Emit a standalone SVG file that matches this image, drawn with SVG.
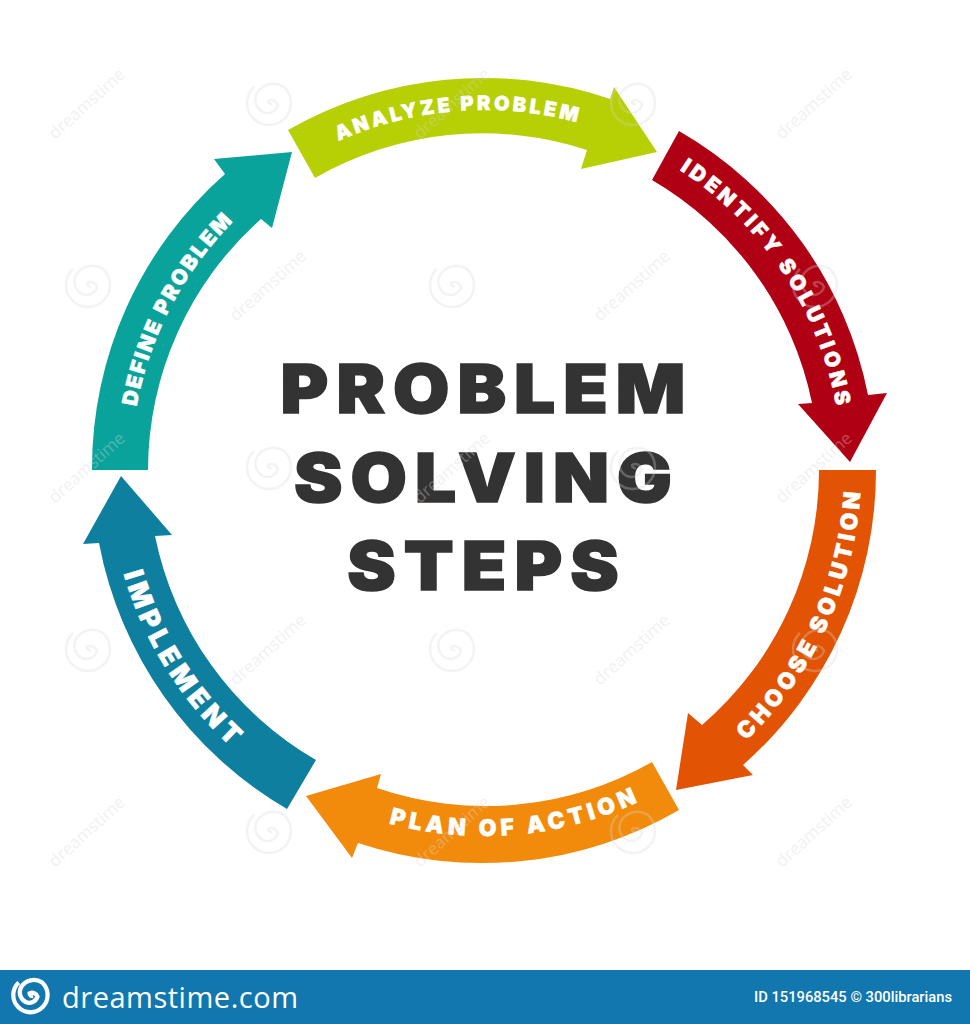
<svg xmlns="http://www.w3.org/2000/svg" xmlns:xlink="http://www.w3.org/1999/xlink" width="970" height="1024" viewBox="0 0 970 1024">
<style>
.lbl{font-family:Inter,"Liberation Sans",sans-serif;font-weight:900;fill:#fff;stroke:#fff;stroke-width:.5}
.title{font-family:Inter,"Liberation Sans",sans-serif;font-weight:900;font-size:68px;fill:#333;stroke:#333;stroke-width:1.6;text-anchor:middle;letter-spacing:7.5px}
.wm{font-family:"Open Sans","Liberation Sans",sans-serif;font-size:17px;fill:#d8d8d8;opacity:.35}
.sp{fill:none;stroke:#d8d8d8;stroke-width:2.5;opacity:.3}
</style>
<defs>
<path id="spiral" d="M1,1 a3,3 0 0 1 -4,-3 a7,7 0 0 1 10,4 a11,11 0 0 1 -15,7 a14,14 0 0 1 -6,-19 a19,19 0 0 1 27,-6 a22,22 0 1 1 -30,0"/>
<path id="p1" d="M338.2,141 A360,360 0 0 1 577.2,122.3"/>
<path id="p2" d="M679.5,170 A358,358 0 0 1 836.2,405.9"/>
<path id="p3" d="M746,741 A377,377 0 0 0 860.3,492.4"/>
<path id="p4" d="M388.7,823.4 A366,366 0 0 0 638.1,802"/>
<path id="p5" d="M123.6,573.5 A375,375 0 0 0 238,753"/>
<path id="p6" d="M136.6,406.8 A353,353 0 0 1 233,221.8"/>
</defs>
<rect width="970" height="1024" fill="#fff"/>
<g id="analyze-problem">
<path fill="#b7cf05" d="M288,130 A392,392 0 0 1 610,99 L614,87 L657,152 L581,169 L587,150 A336,336 0 0 0 315,178 Z"/>
<text class="lbl" font-size="20"><textPath href="#p1" textLength="244">ANALYZE PROBLEM</textPath></text>
</g>
<g id="identify-solutions">
<path fill="#b00014" d="M679,131 A392,392 0 0 1 868,395 L887,393 L850,462 L798,404 L812,403 A336,336 0 0 0 652,180 Z"/>
<text class="lbl" font-size="21"><textPath href="#p2" textLength="291">IDENTIFY SOLUTIONS</textPath></text>
</g>
<g id="choose-solution">
<path fill="#e25303" d="M876,470 A392,392 0 0 1 743,765 L753,775 L676,790 L688,713 L702,725 A336,336 0 0 0 819,470 Z"/>
<text class="lbl" font-size="23"><textPath href="#p3" textLength="280">CHOOSE SOLUTION</textPath></text>
</g>
<g id="plan-of-action">
<path fill="#f28b0b" d="M679,810 A392,392 0 0 1 358,843 L352,858 L306,796 L381,774 L377,788 A336,336 0 0 0 652,762 Z"/>
<text class="lbl" font-size="23"><textPath href="#p4" textLength="255">PLAN OF ACTION</textPath></text>
</g>
<g id="implement">
<path fill="#0f7f9f" d="M287,809 A392,392 0 0 1 99,543 L83,544 L121,476 L172,535 L155,536 A336,336 0 0 0 316,760 Z"/>
<text class="lbl" font-size="27"><textPath href="#p5" textLength="206">IMPLEMENT</textPath></text>
</g>
<g id="define-problem">
<path fill="#09a39b" d="M92,470 A392,392 0 0 1 225,174 L214,159 L292,152 L272,228 L261,219 A336,336 0 0 0 148,470 Z"/>
<text class="lbl" font-size="21"><textPath href="#p6" textLength="212">DEFINE PROBLEM</textPath></text>
</g>
<g id="title">
<text class="title" transform="translate(487,413) scale(1.07,1)">PROBLEM</text>
<text class="title" transform="translate(487,502) scale(1.07,1)">SOLVING</text>
<text class="title" transform="translate(487,590) scale(1.07,1)">STEPS</text>
</g>
<g id="footer">
<rect x="0" y="970" width="970" height="54" fill="#1277ae"/>
<use href="#spiral" transform="translate(32,995) scale(.78)" fill="none" stroke="#fff" stroke-width="5.5"/>
<text x="62" y="1008" font-family="'Open Sans','Liberation Sans',sans-serif" font-size="29" fill="#fff" textLength="236">dreamstime.com</text>
<text x="754" y="1002" font-family="Roboto,'Liberation Sans',sans-serif" font-size="14" font-weight="500" fill="#fff" textLength="198" lengthAdjust="spacingAndGlyphs">ID 151968545 © 300librarians</text>
</g>
<g id="watermark">
<use class="sp" href="#spiral" x="271" y="103"/><use class="sp" href="#spiral" x="635" y="103"/>
<use class="sp" href="#spiral" x="90" y="285"/><use class="sp" href="#spiral" x="454" y="285"/><use class="sp" href="#spiral" x="817" y="285"/>
<use class="sp" href="#spiral" x="271" y="467"/><use class="sp" href="#spiral" x="635" y="467"/>
<use class="sp" href="#spiral" x="90" y="649"/><use class="sp" href="#spiral" x="454" y="649"/><use class="sp" href="#spiral" x="817" y="649"/>
<use class="sp" href="#spiral" x="271" y="831"/><use class="sp" href="#spiral" x="635" y="831"/>
<text class="wm" transform="translate(55,140) rotate(-42)">dreamstime</text>
<text class="wm" transform="translate(420,140) rotate(-42)">dreamstime</text>
<text class="wm" transform="translate(782,140) rotate(-42)">dreamstime</text>
<text class="wm" transform="translate(236,322) rotate(-42)">dreamstime</text>
<text class="wm" transform="translate(600,322) rotate(-42)">dreamstime</text>
<text class="wm" transform="translate(55,504) rotate(-42)">dreamstime</text>
<text class="wm" transform="translate(420,504) rotate(-42)">dreamstime</text>
<text class="wm" transform="translate(782,504) rotate(-42)">dreamstime</text>
<text class="wm" transform="translate(236,686) rotate(-42)">dreamstime</text>
<text class="wm" transform="translate(600,686) rotate(-42)">dreamstime</text>
<text class="wm" transform="translate(55,868) rotate(-42)">dreamstime</text>
<text class="wm" transform="translate(420,868) rotate(-42)">dreamstime</text>
<text class="wm" transform="translate(782,868) rotate(-42)">dreamstime</text>
</g>
</svg>
